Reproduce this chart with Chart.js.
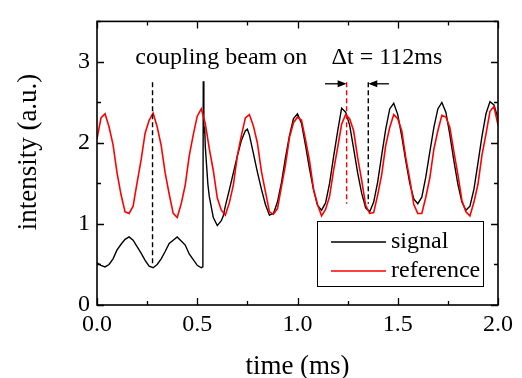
<!DOCTYPE html>
<html>
<head>
<meta charset="utf-8">
<script src="https://cdn.jsdelivr.net/npm/chart.js@4/dist/chart.umd.min.js"></script>
<style>
  body { margin: 0; background: #fff; }
</style>
</head>
<body>
<canvas id="chart" width="522" height="378"></canvas>
<script>
// reference trace, sampled every 0.02 ms
var refTime = [];
for (var i = 0; i <= 100; i++) refTime.push(+(i * 0.02).toFixed(2));
var reference = [
	2.05, 2.31, 2.36, 2.20, 1.98, 1.63, 1.36, 1.15, 1.13, 1.22,
	1.51, 1.79, 2.12, 2.28, 2.37, 2.20, 1.97, 1.63, 1.37, 1.13,
	1.08, 1.25, 1.48, 1.84, 2.10, 2.33, 2.42, 2.24, 1.93, 1.66,
	1.32, 1.17, 1.11, 1.26, 1.48, 1.84, 2.09, 2.31, 2.35, 2.21,
	2.00, 1.65, 1.40, 1.15, 1.12, 1.19, 1.46, 1.73, 2.07, 2.25,
	2.32, 2.28, 2.04, 1.78, 1.43, 1.24, 1.10, 1.18, 1.34, 1.66,
	1.94, 2.23, 2.35, 2.30, 2.15, 1.82, 1.54, 1.23, 1.13, 1.14,
	1.36, 1.61, 1.97, 2.19, 2.35, 2.30, 2.15, 1.82, 1.55, 1.24,
	1.13, 1.13, 1.33, 1.57, 1.92, 2.15, 2.34, 2.32, 2.19, 1.89,
	1.61, 1.29, 1.15, 1.10, 1.27, 1.49, 1.85, 2.11, 2.39, 2.45,
	2.22
];

// signal trace (coupling beam switched on at 0.53 ms)
var signalTime = [
	0.00, 0.02, 0.04, 0.06, 0.08, 0.10, 0.12, 0.14, 0.16, 0.18,
	0.20, 0.22, 0.24, 0.26, 0.28, 0.30, 0.32, 0.34, 0.36, 0.38,
	0.40, 0.42, 0.44, 0.46, 0.48, 0.50, 0.52, 0.528, 0.530, 0.533,
	0.537, 0.540, 0.553, 0.56, 0.573, 0.58, 0.60, 0.62, 0.63, 0.64,
	0.66, 0.68, 0.70, 0.72, 0.74, 0.75, 0.76, 0.78, 0.80, 0.82,
	0.84, 0.86, 0.88, 0.90, 0.92, 0.94, 0.96, 0.98, 1.00, 1.02,
	1.04, 1.06, 1.08, 1.10, 1.12, 1.14, 1.16, 1.18, 1.20, 1.22,
	1.24, 1.26, 1.28, 1.30, 1.32, 1.34, 1.36, 1.38, 1.40, 1.42,
	1.44, 1.46, 1.48, 1.50, 1.52, 1.54, 1.56, 1.58, 1.60, 1.62,
	1.64, 1.66, 1.68, 1.70, 1.72, 1.74, 1.76, 1.78, 1.80, 1.82,
	1.84, 1.86, 1.88, 1.90, 1.92, 1.94, 1.96, 1.98, 2.00
];
var signal = [
	0.52, 0.49, 0.47, 0.50, 0.57, 0.68, 0.75, 0.81, 0.84, 0.80,
	0.72, 0.64, 0.55, 0.48, 0.46, 0.50, 0.57, 0.66, 0.76, 0.80,
	0.84, 0.79, 0.74, 0.63, 0.56, 0.49, 0.46, 0.47, 2.76, 2.12,
	2.20, 1.96, 1.49, 1.34, 1.17, 1.08, 0.98, 1.04, 1.10, 1.22,
	1.42, 1.63, 1.84, 2.03, 2.15, 2.17, 2.10, 1.87, 1.64, 1.43,
	1.24, 1.11, 1.13, 1.27, 1.51, 1.82, 2.09, 2.30, 2.36, 2.24,
	1.97, 1.68, 1.42, 1.23, 1.17, 1.26, 1.50, 1.83, 2.14, 2.43,
	2.38, 2.22, 1.93, 1.63, 1.38, 1.20, 1.15, 1.27, 1.52, 1.85,
	2.17, 2.42, 2.49, 2.35, 2.08, 1.78, 1.50, 1.31, 1.25, 1.33,
	1.58, 1.89, 2.19, 2.42, 2.50, 2.38, 2.10, 1.78, 1.49, 1.27,
	1.17, 1.22, 1.43, 1.75, 2.08, 2.36, 2.51, 2.47, 2.30
];

var xTicks = [0, 0.5, 1.0, 1.5, 2.0];
var yTicks = [0, 1, 2, 3];

// annotations, in data units
var onMarkerT = 0.277, peakRefT = 1.245, peakSigT = 1.353;
var markerTop = 2.75;
var arrowY = 2.73;

var serif = '"Liberation Serif", "Times New Roman", serif';

function pairs(xs, ys){
	return xs.map(function(t, k){ return { x: t, y: ys[k] }; });
}

function arrow(ctx, x0, x1, y){
	var dir = x1 > x0 ? 1 : -1;
	ctx.beginPath();
	ctx.moveTo(x0, y);
	ctx.lineTo(x1 - dir * 6, y);
	ctx.stroke();
	ctx.beginPath();
	ctx.moveTo(x1, y);
	ctx.lineTo(x1 - dir * 9, y - 3.5);
	ctx.lineTo(x1 - dir * 9, y + 3.5);
	ctx.closePath();
	ctx.fill();
}

var overlay = {
	id: 'overlay',
	afterDatasetsDraw: function(chart){
		var ctx = chart.ctx, a = chart.chartArea, sx = chart.scales.x, sy = chart.scales.y;
		ctx.save();
		ctx.strokeStyle = '#000';
		ctx.fillStyle = '#000';

		// inward ticks on all four sides
		ctx.lineWidth = 1.3;
		ctx.beginPath();
		for (var v = 0; v <= 2.0001; v += 0.25) {
			var px = Math.round(sx.getPixelForValue(v)) + 0.5;
			var len = Math.abs(v * 2 - Math.round(v * 2)) < 1e-6 ? 7 : 4;
			ctx.moveTo(px, a.bottom); ctx.lineTo(px, a.bottom - len);
			ctx.moveTo(px, a.top); ctx.lineTo(px, a.top + len);
		}
		for (var w = 0; w <= 3.5001; w += 0.5) {
			var py = Math.round(sy.getPixelForValue(w)) + 0.5;
			var ln = Math.abs(w - Math.round(w)) < 1e-6 ? 7 : 4;
			ctx.moveTo(a.left, py); ctx.lineTo(a.left + ln, py);
			ctx.moveTo(a.right, py); ctx.lineTo(a.right - ln, py);
		}
		ctx.stroke();

		// frame
		ctx.lineWidth = 1.6;
		ctx.strokeRect(a.left, a.top, a.right - a.left, a.bottom - a.top);

		// dashed markers
		ctx.lineWidth = 1.4;
		ctx.setLineDash([5, 3]);
		[[onMarkerT, 0.49, '#000'], [peakRefT, 1.25, '#ff0000'], [peakSigT, 1.25, '#000']].forEach(function(m){
			var mx = sx.getPixelForValue(m[0]);
			ctx.strokeStyle = m[2];
			ctx.beginPath();
			ctx.moveTo(mx, sy.getPixelForValue(markerTop));
			ctx.lineTo(mx, sy.getPixelForValue(m[1]));
			ctx.stroke();
		});
		ctx.setLineDash([]);
		ctx.strokeStyle = '#000';
		ctx.lineWidth = 1.3;
		var ay = sy.getPixelForValue(arrowY);
		arrow(ctx, sx.getPixelForValue(1.137), sx.getPixelForValue(peakRefT), ay);
		arrow(ctx, sx.getPixelForValue(1.456), sx.getPixelForValue(peakSigT), ay);

		// labels
		ctx.font = '24px ' + serif;
		ctx.textAlign = 'center';
		ctx.textBaseline = 'alphabetic';
		ctx.fillText('coupling beam on', sx.getPixelForValue(0.62), sy.getPixelForValue(2.98));
		ctx.fillText('\u0394t = 112ms', sx.getPixelForValue(1.446), sy.getPixelForValue(2.98));

		// y axis title
		ctx.save();
		ctx.font = '27px ' + serif;
		ctx.translate(36, 152);
		ctx.rotate(-Math.PI / 2);
		ctx.fillText('intensity (a.u.)', 0, 0);
		ctx.restore();

		// legend box
		var bw = 166, bh = 65;
		var bx = a.right - 15 - bw, by = a.bottom - 19 - bh;
		ctx.fillStyle = '#fff';
		ctx.fillRect(bx, by, bw, bh);
		ctx.lineWidth = 1;
		ctx.strokeStyle = '#000';
		ctx.strokeRect(bx + 0.5, by + 0.5, bw, bh);
		ctx.textAlign = 'left';
		ctx.textBaseline = 'middle';
		chart.data.datasets.forEach(function(ds, k){
			var ly = by + 21 + k * 29;
			ctx.strokeStyle = ds.borderColor;
			ctx.lineWidth = 1.4;
			ctx.beginPath();
			ctx.moveTo(bx + 14, ly); ctx.lineTo(bx + 69, ly);
			ctx.stroke();
			ctx.fillStyle = '#000';
			ctx.fillText(ds.label, bx + 74, ly);
		});
		ctx.restore();
	}
};

new Chart(document.getElementById('chart'), {
	type: 'line',
	data: {
		datasets: [
			{ label: 'signal', data: pairs(signalTime, signal), borderColor: '#000000', borderWidth: 1.4, pointRadius: 0, tension: 0, order: 1 },
			{ label: 'reference', data: pairs(refTime, reference), borderColor: '#ff0000', borderWidth: 1.6, pointRadius: 0, tension: 0, order: 0 }
		]
	},
	options: {
		responsive: false,
		animation: false,
		layout: { padding: { left: 0, top: 11, right: 24, bottom: 0 } },
		plugins: { legend: { display: false }, tooltip: { enabled: false } },
		scales: {
			x: {
				type: 'linear', min: 0, max: 2,
				afterBuildTicks: function(s){ s.ticks = xTicks.map(function(v){ return { value: v }; }); },
				ticks: { callback: function(v){ return v.toFixed(1); }, font: { family: serif, size: 24 }, color: '#000', padding: 5, maxRotation: 0, autoSkip: false },
				grid: { display: false, drawTicks: false },
				border: { display: false },
				title: { display: true, text: 'time (ms)', font: { family: serif, size: 27 }, color: '#000', padding: { top: 0, bottom: -5 } },
				afterFit: function(s){ s.height = 73; }
			},
			y: {
				type: 'linear', min: 0, max: 3.5,
				afterBuildTicks: function(s){ s.ticks = yTicks.map(function(v){ return { value: v }; }); },
				ticks: { font: { family: serif, size: 24 }, color: '#000', padding: 7, autoSkip: false },
				grid: { display: false, drawTicks: false },
				border: { display: false },
				title: { display: false },
				afterFit: function(s){ s.width = 97; }
			}
		}
	},
	plugins: [overlay]
});
</script>
</body>
</html>
